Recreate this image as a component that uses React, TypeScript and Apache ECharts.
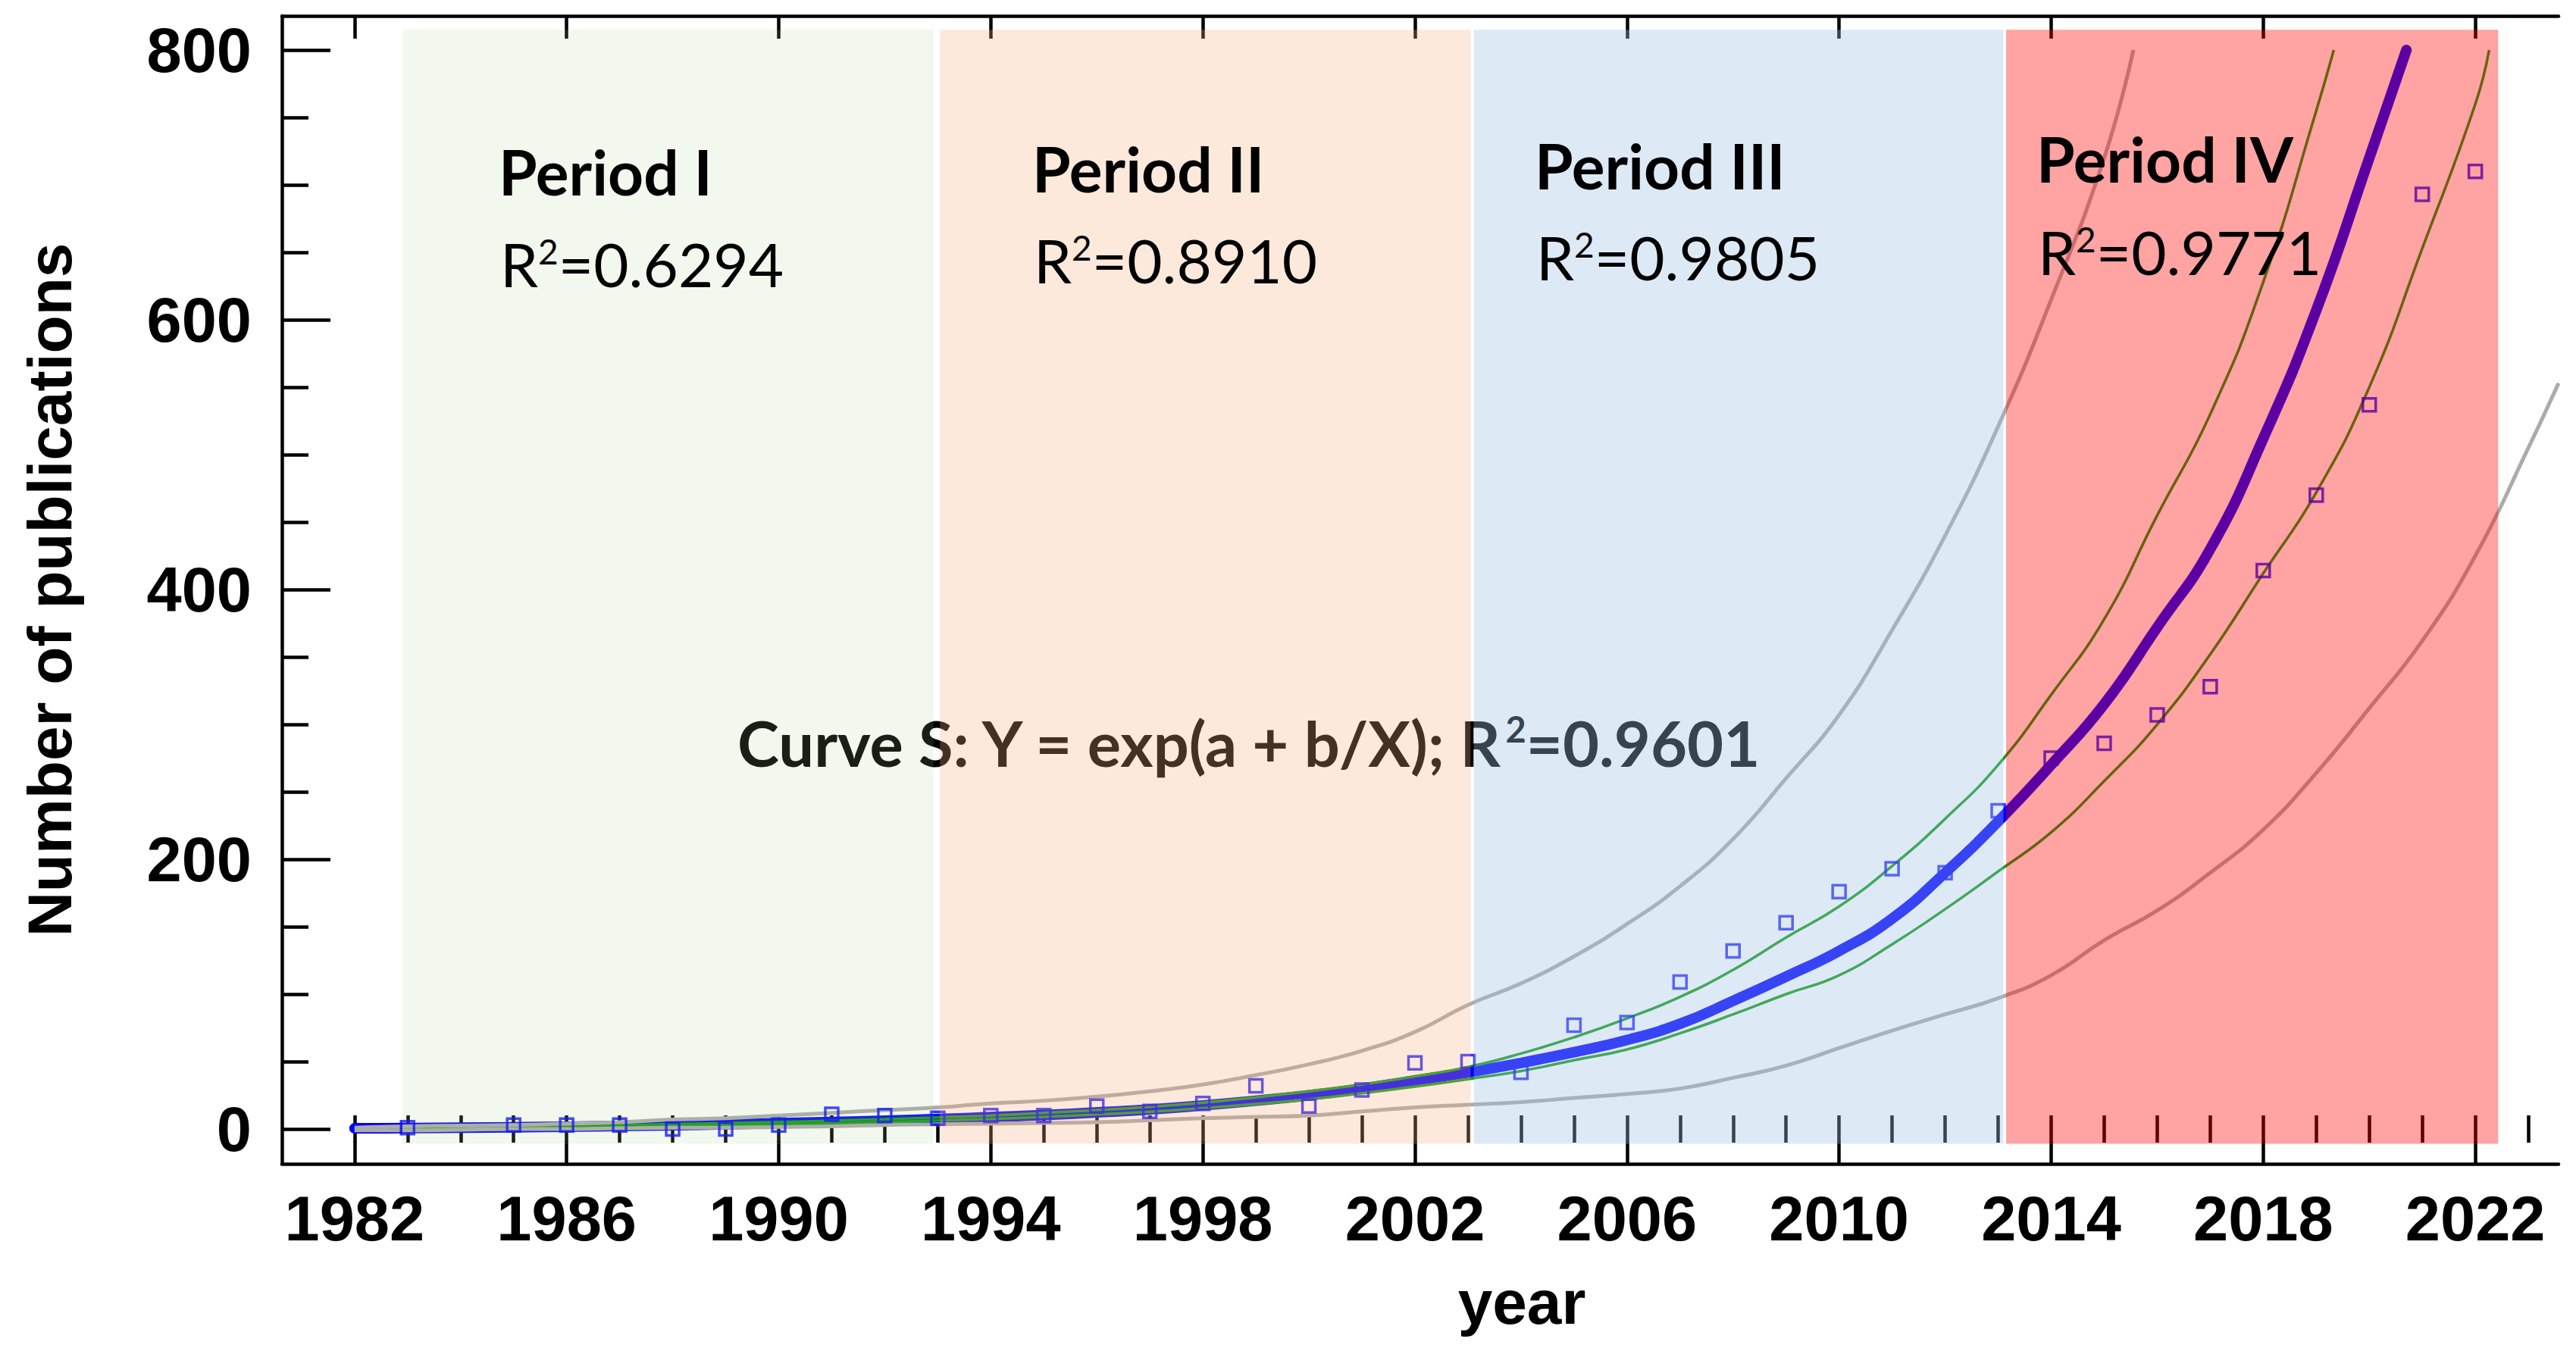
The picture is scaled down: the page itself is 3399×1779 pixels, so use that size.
import React, { useEffect, useRef } from 'react';
import * as echarts from 'echarts';

// ---------- data ----------
const years = [1982, 1983, 1984, 1985, 1986, 1987, 1988, 1989, 1990, 1991, 1992, 1993, 1994, 1995, 1996, 1997, 1998, 1999, 2000, 2001, 2002, 2003, 2004, 2005, 2006, 2007, 2008, 2009, 2010, 2011, 2012, 2013, 2014, 2015, 2016, 2017, 2018, 2019, 2020, 2021, 2022];
const publications = [null, 1, null, 3, 3, 3, 0, 0, 3, 11, 10, 8, 10, 10, 17, 13, 19, 32, 17, 29, 49, 50, 42, 77, 79, 109, 132, 153, 176, 193, 190, 236, 275, 286, 307, 328, 414, 470, 537, 693, 710];

// Curve S fit  Y = exp(a + b/X)
const fitYears = [1982, 1983, 1984, 1985, 1986, 1987, 1988, 1989, 1990, 1991, 1992, 1993, 1994, 1995, 1996, 1997, 1998, 1999, 2000, 2001, 2002, 2003, 2004, 2005, 2006, 2007, 2008, 2009, 2010, 2011, 2012, 2013, 2014, 2015, 2016, 2017, 2018, 2019, 2020, 2020.7];
const fitValues = [0.5, 0.7, 1, 1.3, 1.7, 2.2, 2.8, 3.5, 4.3, 5.2, 6.2, 7.4, 8.8, 10.4, 12.3, 14.5, 17.5, 21, 25, 30, 36, 42, 49, 57, 66, 78, 95, 113, 132, 156, 190, 228, 270, 315, 372, 430, 512, 607, 720, 800];

// confidence band (green)
const upperCIYears = [1982, 1983, 1984, 1985, 1986, 1987, 1988, 1989, 1990, 1991, 1992, 1993, 1994, 1995, 1996, 1997, 1998, 1999, 2000, 2001, 2002, 2003, 2004, 2005, 2006, 2007, 2008, 2009, 2010, 2011, 2012, 2013, 2014, 2015, 2016, 2017, 2018, 2019, 2019.33];
const upperCI = [1, 1.2, 1.5, 2, 2.5, 3, 3.6, 4.3, 5.2, 6.2, 7.3, 8.6, 10, 12, 14, 16.5, 19.5, 23.5, 28, 33, 39, 46, 56, 68, 82, 98, 118, 142, 165, 195, 230, 270, 322, 378, 455, 530, 628, 755, 800];
const lowerCIYears = [1982, 1983, 1984, 1985, 1986, 1987, 1988, 1989, 1990, 1991, 1992, 1993, 1994, 1995, 1996, 1997, 1998, 1999, 2000, 2001, 2002, 2003, 2004, 2005, 2006, 2007, 2008, 2009, 2010, 2011, 2012, 2013, 2014, 2015, 2016, 2017, 2018, 2019, 2020, 2021, 2022, 2022.26];
const lowerCI = [0.2, 0.4, 0.6, 0.8, 1.1, 1.5, 2, 2.6, 3.4, 4.2, 5.2, 6.3, 7.5, 9, 10.8, 12.8, 15.5, 18.5, 22, 26.5, 31.5, 37, 43, 51, 59, 71, 85, 100, 114, 137, 163, 191, 220, 258, 300, 352, 412, 472, 550, 653, 760, 800];

// prediction band (gray)
const upperPIYears = [1982, 1983, 1984, 1985, 1986, 1987, 1988, 1989, 1990, 1991, 1992, 1993, 1994, 1995, 1996, 1997, 1998, 1999, 2000, 2001, 2002, 2003, 2004, 2005, 2006, 2007, 2008, 2009, 2010, 2011, 2012, 2013, 2014, 2015, 2015.55];
const upperPI = [1, 2, 2.5, 3, 4, 5, 7, 8, 10, 12, 14, 16, 19, 21, 24, 28, 33, 40, 48, 58, 72, 92, 108, 128, 152, 180, 215, 260, 307, 370, 440, 521, 615, 720, 800];
const lowerPIYears = [1982, 1983, 1984, 1985, 1986, 1987, 1988, 1989, 1990, 1991, 1992, 1993, 1994, 1995, 1996, 1997, 1998, 1999, 2000, 2001, 2002, 2003, 2004, 2005, 2006, 2007, 2008, 2009, 2010, 2011, 2012, 2013, 2014, 2015, 2016, 2017, 2018, 2019, 2020, 2021, 2022, 2023, 2023.57];
const lowerPI = [-1, -1, -0.5, 0, 0, 0.5, 1, 1, 1.5, 2, 3, 3.5, 4, 4.5, 5, 6.5, 8, 9, 10, 13, 16, 18, 20, 23, 26, 30, 38, 47, 60, 73, 85, 97, 114, 140, 162, 190, 222, 264, 312, 362, 425, 505, 553];

// periods
const periodNames = ['Period I', 'Period II', 'Period III', 'Period IV'];
const periodR2 = ['0.6294', '0.8910', '0.9805', '0.9771'];
const periodStart = [1982.9, 1993.04, 2003.11, 2013.15];
const periodEnd = [1992.92, 2003.05, 2013.1, 2022.43];
const periodTop = 815;
const periodBottom = -11;

const curveLabel = 'Curve S: Y = exp(a + b/X); R';
const curveR2 = '=0.9601';

// ticks
const xMajorTicks = [1982, 1986, 1990, 1994, 1998, 2002, 2006, 2010, 2014, 2018, 2022];
const xMinorTicks = [1982, 1983, 1984, 1985, 1986, 1987, 1988, 1989, 1990, 1991, 1992, 1993, 1994, 1995, 1996, 1997, 1998, 1999, 2000, 2001, 2002, 2003, 2004, 2005, 2006, 2007, 2008, 2009, 2010, 2011, 2012, 2013, 2014, 2015, 2016, 2017, 2018, 2019, 2020, 2021, 2022, 2023];
const yMajorTicks = [0, 200, 400, 600, 800];
const yMinorTicks = [50, 100, 150, 250, 300, 350, 450, 500, 550, 650, 700, 750];

// ---------- styling / layout ----------
const X_MIN = 1980.63;
const X_MAX = 2023.57;
const Y_MIN = -25.84;
const Y_MAX = 825.3;
const zoneColors = ['#a8d08d', '#f4b183', '#9dc3e6', '#ff0000'];
const zoneOpacity = [0.15, 0.28, 0.35, 0.36];
const periodLabelX = [658, 1362, 2025, 2687];
const periodLabelY = [226, 222, 218, 209];
const r2LabelY = [348, 343, 339, 332];

const AXIS_FONT = 'Liberation Sans';
const NOTE_FONT = 'Lato';

function pairs(xs: number[], ys: (number | null)[]) {
  const out: number[][] = [];
  xs.forEach((x, i) => {
    const v = ys[i];
    if (v !== null && v !== undefined) out.push([x, v]);
  });
  return out;
}

export default function App() {
  const ref = useRef<HTMLDivElement>(null);

  useEffect(() => {
    const chart = echarts.init(ref.current as HTMLDivElement, null, { renderer: 'svg' });

    const axisLineStyle = { color: '#000', width: 4.5 };
    const hidden = { show: false };
    const baseX = {
      type: 'value',
      min: X_MIN,
      max: X_MAX,
      splitLine: hidden,
      axisLabel: hidden,
      axisTick: hidden,
      axisLine: hidden,
    };
    const baseY = {
      type: 'value',
      min: Y_MIN,
      max: Y_MAX,
      splitLine: hidden,
      axisLabel: hidden,
      axisTick: hidden,
      axisLine: hidden,
      offset: 0,
    };
    const tickLabelStyle = {
      fontSize: 83,
      fontWeight: 'bold',
      fontFamily: AXIS_FONT,
      color: '#000',
      formatter: (v: number) => String(Math.round(v)),
    };

    const markAreaData = periodStart.map((s, i) => [
      {
        xAxis: s,
        yAxis: periodTop,
        itemStyle: { color: zoneColors[i], opacity: zoneOpacity[i] },
      },
      { xAxis: periodEnd[i], yAxis: periodBottom },
    ]);

    const graphics: any[] = [];
    periodNames.forEach((name, i) => {
      graphics.push({
        type: 'text',
        x: periodLabelX[i],
        y: periodLabelY[i],
        z: 100,
        style: {
          text: name,
          fontSize: 82,
          fontWeight: 'bold',
          fontFamily: NOTE_FONT,
          fill: '#000',
          align: 'left',
          verticalAlign: 'middle',
        },
      });
      graphics.push({
        type: 'text',
        x: periodLabelX[i] + 2,
        y: r2LabelY[i],
        z: 100,
        style: {
          text: '{r|R}{s|2}{r|=' + periodR2[i] + '}',
          align: 'left',
          verticalAlign: 'middle',
          rich: {
            r: { fontSize: 80, fontFamily: NOTE_FONT, fill: '#000' },
            s: { fontSize: 46, fontFamily: NOTE_FONT, fill: '#000', verticalAlign: 'top' },
          },
        },
      });
    });
    graphics.push({
      type: 'text',
      x: 973,
      y: 980,
      z: 1,
      style: {
        text: '{b|' + curveLabel + '}{s|2}{b|' + curveR2 + '}',
        align: 'left',
        verticalAlign: 'middle',
        rich: {
          b: { fontSize: 83, fontWeight: 'bold', fontFamily: NOTE_FONT, fill: '#000' },
          s: { fontSize: 47, fontWeight: 'bold', fontFamily: NOTE_FONT, fill: '#000', verticalAlign: 'top' },
        },
      },
    });

    const lineCommon = { symbol: 'none', smooth: 0.5, silent: true };

    const option: any = {
      animation: false,
      backgroundColor: '#ffffff',
      grid: { left: 372, top: 21, right: 23, bottom: 243, containLabel: false },
      xAxis: [
        {
          ...baseX,
          position: 'bottom',
          axisLine: { show: true, onZero: false, lineStyle: axisLineStyle },
          axisTick: {
            show: true,
            inside: true,
            length: 30,
            customValues: xMajorTicks,
            lineStyle: { color: '#000', width: 4.5 },
          },
          axisLabel: { show: true, customValues: xMajorTicks, margin: 31, ...tickLabelStyle },
          name: 'year',
          nameLocation: 'middle',
          nameGap: 141,
          nameTextStyle: {
            fontSize: 82,
            fontWeight: 'bold',
            fontFamily: AXIS_FONT,
            color: '#000',
            padding: [0, 0, 0, 268],
          },
        },
        {
          ...baseX,
          position: 'bottom',
          axisTick: {
            show: true,
            inside: true,
            length: 18,
            customValues: xMinorTicks,
            lineStyle: { color: '#000', width: 4.5 },
          },
        },
        {
          ...baseX,
          position: 'top',
          axisLine: { show: true, onZero: false, lineStyle: axisLineStyle },
          axisTick: {
            show: true,
            inside: true,
            length: 30,
            customValues: xMajorTicks,
            lineStyle: { color: '#000', width: 4.5 },
          },
        },
        {
          ...baseX,
          position: 'top',
          axisTick: {
            show: true,
            inside: true,
            length: 18,
            customValues: xMinorTicks,
            lineStyle: { color: '#000', width: 4.5 },
          },
        },
      ],
      yAxis: [
        {
          ...baseY,
          position: 'left',
          axisLine: { show: true, onZero: false, lineStyle: axisLineStyle },
          axisTick: {
            show: true,
            inside: true,
            length: 64,
            customValues: yMajorTicks,
            lineStyle: { color: '#000', width: 4.5 },
          },
          axisLabel: { show: true, customValues: yMajorTicks, margin: 40, ...tickLabelStyle },
          name: 'Number of publications',
          nameLocation: 'middle',
          nameRotate: 90,
          nameGap: 266,
          nameTextStyle: {
            fontSize: 82,
            fontWeight: 'bold',
            fontFamily: AXIS_FONT,
            color: '#000',
          },
        },
        {
          ...baseY,
          position: 'left',
          axisTick: {
            show: true,
            inside: true,
            length: 35,
            customValues: yMinorTicks,
            lineStyle: { color: '#000', width: 4.5 },
          },
        },
      ],
      graphic: { elements: graphics },
      series: [
        {
          name: 'Curve S',
          type: 'line',
          data: pairs(fitYears, fitValues),
          ...lineCommon,
          z: 2,
          lineStyle: { color: '#0000ff', width: 14, cap: 'round', join: 'round' },
        },
        {
          name: 'Publications',
          type: 'scatter',
          data: pairs(years, publications),
          symbol: 'rect',
          symbolSize: 17,
          z: 3,
          silent: true,
          itemStyle: { color: 'rgba(255,255,255,0)', borderColor: '#0000ff', borderWidth: 3.5 },
        },
        {
          name: 'Upper CI',
          type: 'line',
          data: pairs(upperCIYears, upperCI),
          ...lineCommon,
          z: 3,
          lineStyle: { color: '#139913', width: 3.5 },
        },
        {
          name: 'Lower CI',
          type: 'line',
          data: pairs(lowerCIYears, lowerCI),
          ...lineCommon,
          z: 3,
          lineStyle: { color: '#139913', width: 3.5 },
        },
        {
          name: 'Upper PI',
          type: 'line',
          data: pairs(upperPIYears, upperPI),
          ...lineCommon,
          z: 3,
          lineStyle: { color: '#ababab', width: 5 },
        },
        {
          name: 'Lower PI',
          type: 'line',
          data: pairs(lowerPIYears, lowerPI),
          ...lineCommon,
          z: 3,
          lineStyle: { color: '#ababab', width: 5 },
        },
        {
          name: 'Periods',
          type: 'line',
          data: [],
          z: 5,
          silent: true,
          markArea: {
            silent: true,
            z: 10,
            label: { show: false },
            data: markAreaData,
          },
        },
      ],
    };

    chart.setOption(option);
    return () => chart.dispose();
  }, []);

  return (
    <div
      ref={ref}
      style={{ position: 'fixed', left: 0, top: 0, width: 3399, height: 1779, background: '#fff' }}
    />
  );
}
